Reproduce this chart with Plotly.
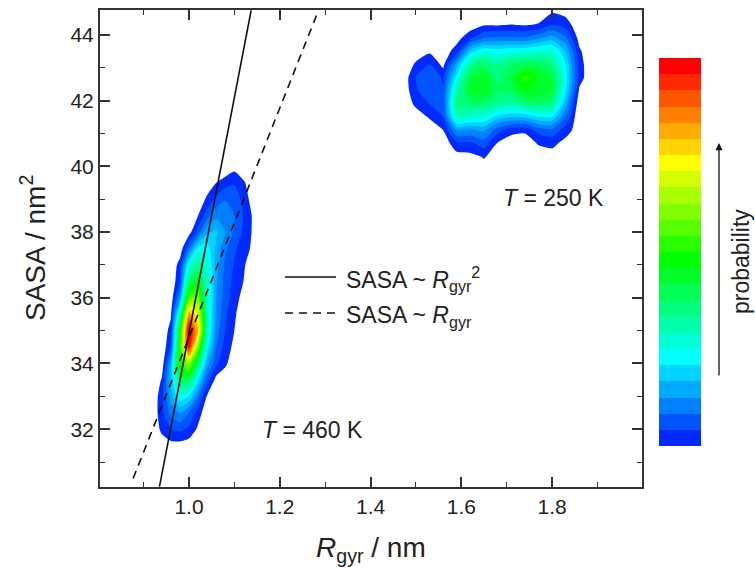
import plotly.graph_objects as go

# ---------------------------------------------------------------
# Probability surface, T = 460 K (compact state)
# rows: SASA / nm^2, columns: Rgyr / nm, values in contour-level units
# ---------------------------------------------------------------
rgyr_460 = [0.92, 0.94, 0.96, 0.98, 1.00, 1.02, 1.04, 1.06, 1.08, 1.10, 1.12, 1.14, 1.16]
sasa_460 = [31.0, 31.5, 32.0, 32.5, 33.0, 33.5, 34.0, 34.5, 35.0, 35.5,
            36.0, 36.5, 37.0, 37.5, 38.0, 38.5, 39.0, 39.5, 40.0, 40.5]
prob_460 = [
    [0,   0,   0,   0,   0,    0,   0,   0,   0,   0,   0,   0,   0],  # 31.0
    [0,   0.3, 0.6, 0.6, 0.4,  0,   0,   0,   0,   0,   0,   0,   0],  # 31.5
    [0,   1.3, 2.0, 2.2, 1.8,  0.8, 0,   0,   0,   0,   0,   0,   0],  # 32.0
    [0.3, 1.6, 3.3, 4.0, 3.0,  1.5, 0.3, 0,   0,   0,   0,   0,   0],  # 32.5
    [0.2, 1.6, 4.5, 6.8, 6.0,  3.2, 0.9, 0,   0,   0,   0,   0,   0],  # 33.0
    [0,   1.1, 5.0, 10,  10.5, 6.0, 2.5, 0.6, 0,   0,   0,   0,   0],  # 33.5
    [0,   0.2, 4.5, 13,  16,   10,  4.5, 2.2, 1.3, 0,   0,   0,   0],  # 34.0
    [0,   0,   2.2, 13,  24.5, 15,  6.5, 3.0, 1.6, 0.7, 0,   0,   0],  # 34.5
    [0,   0,   1.5, 12,  25.5, 20,  8.0, 3.5, 2.0, 1.0, 0,   0,   0],  # 35.0
    [0,   0,   0.8, 8.0, 21,   18,  8.0, 3.8, 2.2, 1.2, 0.2, 0,   0],  # 35.5
    [0,   0,   0.2, 4.0, 14,   15,  8.0, 4.0, 2.5, 1.5, 0.6, 0,   0],  # 36.0
    [0,   0,   0,   2.0, 10,   12,  8.0, 4.2, 2.6, 1.7, 1.0, 0.2, 0],  # 36.5
    [0,   0,   0,   1.5, 7.0,  9.0, 7.5, 4.5, 2.8, 1.9, 1.2, 0.2, 0],  # 37.0
    [0,   0,   0,   0.2, 3.0,  6.5, 6.5, 4.8, 3.2, 2.2, 1.5, 0.8, 0],  # 37.5
    [0,   0,   0,   0,   0.5,  2.5, 4.8, 5.2, 4.0, 2.8, 1.8, 0.9, 0],  # 38.0
    [0,   0,   0,   0,   0,    1.0, 2.6, 3.7, 3.9, 3.0, 2.0, 0.9, 0],  # 38.5
    [0,   0,   0,   0,   0,    0.3, 1.2, 2.3, 2.9, 2.6, 1.7, 0.5, 0],  # 39.0
    [0,   0,   0,   0,   0,    0,   0.4, 1.0, 1.6, 1.9, 1.2, 0.2, 0],  # 39.5
    [0,   0,   0,   0,   0,    0,   0,   0,   0,   0.6, 0,   0,   0],  # 40.0
    [0,   0,   0,   0,   0,    0,   0,   0,   0,   0,   0,   0,   0],  # 40.5
]

# ---------------------------------------------------------------
# Probability surface, T = 250 K (extended state)
# ---------------------------------------------------------------
rgyr_250 = [1.47, 1.50, 1.53, 1.56, 1.59, 1.62, 1.65, 1.68, 1.71, 1.74, 1.77, 1.80, 1.83, 1.86, 1.89]
sasa_250 = [39.9, 40.3, 40.7, 41.1, 41.5, 41.9, 42.3, 42.7, 43.1, 43.5, 43.9, 44.3, 44.7, 45.1]
prob_250 = [
    [0,   0,   0,   0,   0,   0.3, 0.5,  0,    0,    0,    0,    0,    0,   0,   0],  # 39.9
    [0,   0,   0,   0,   0.6, 0.7, 1.1,  0.5,  0.2,  0.1,  0.4,  0.5,  0.2, 0,   0],  # 40.3
    [0,   0,   0,   0.3, 1.7, 1.8, 2.5,  0.9,  0.5,  0.4,  1.1,  1.3,  0.6, 0,   0],  # 40.7
    [0,   0,   0.4, 1.0, 4.0, 3.8, 4.2,  2.4,  1.3,  1.2,  2.4,  2.7,  1.5, 0.4, 0],  # 41.1
    [0,   0.5, 1.1, 2.0, 8.0, 7.5, 7.0,  5.5,  5.0,  5.0,  6.0,  6.0,  3.0, 0,   0],  # 41.5
    [0.3, 1.2, 2.0, 2.2, 9.5, 10,  10,   9.0,  8.5,  9.5,  10,   9.5,  4.5, 0.2, 0],  # 41.9
    [0.2, 1.8, 3.0, 2.2, 8.5, 11.5, 12,  10,   10.5, 12,   12,   11,   6.0, 0.8, 0],  # 42.3
    [0.2, 2.0, 3.0, 1.8, 6.5, 11,  12,   9.5,  11,   13.5, 12,   11,   6.5, 1.5, 0],  # 42.7
    [0,   1.2, 2.0, 0.7, 4.5, 9.0, 10,   9.0,  10,   10.5, 10.5, 9.5,  6.0, 1.5, 0],  # 43.1
    [0,   0.3, 0.8, 0.4, 1.5, 5.5, 7.0,  6.5,  7.0,  7.0,  7.5,  7.5,  5.0, 1.2, 0],  # 43.5
    [0,   0,   0,   0,   0.6, 1.8, 3.0,  3.2,  3.2,  3.2,  3.8,  4.5,  3.2, 0.6, 0],  # 43.9
    [0,   0,   0,   0,   0,   0.4, 0.95, 0.95, 1.05, 0.95, 1.1,  2.0,  1.6, 0.2, 0],  # 44.3
    [0,   0,   0,   0,   0,   0,   0,    0,    0,    0,    0.4,  0.9,  0.6, 0,   0],  # 44.7
    [0,   0,   0,   0,   0,   0,   0,    0,    0,    0,    0,    0,    0,   0,   0],  # 45.1
]

# Scaling lines SASA ~ Rgyr^2 (solid) and SASA ~ Rgyr (dashed)
rgyr_sq_line = [0.935, 1.000, 1.137]
sasa_sq_line = [30.25, 34.95, 44.75]
rgyr_lin_line = [0.877, 1.281]
sasa_lin_line = [30.50, 44.60]

# 24-step rainbow palette (low -> high probability)
band_colors = [
    "#002AFF", "#0055FF", "#0080FF", "#00AAFF", "#00D4FF", "#00FFFF",
    "#00FFD4", "#00FFAA", "#00FF80", "#00FF55", "#00FF2A", "#00FF00",
    "#2AFF00", "#55FF00", "#80FF00", "#AAFF00", "#D4FF00", "#FFFF00",
    "#FFD400", "#FFAA00", "#FF8000", "#FF5500", "#FF2A00", "#FF0000",
]
n_bands = len(band_colors)

# contour fill colours: below the first level is left transparent
fill_scale = [[0.0, "rgba(255,255,255,0)"]] + [
    [(k + 1) / n_bands, c] for k, c in enumerate(band_colors)
]
bar_scale = [[k / (n_bands - 1), c] for k, c in enumerate(band_colors)]

W, H = 755, 579
X0, X1, Y0, Y1 = 100, 642, 10, 487   # plot frame in pixels


def px(x):
    return x / W


def py(y):
    return 1 - y / H


TXT = "#222222"
AX = "#333333"
FONT = "Liberation Sans, Arial, sans-serif"

contour_opts = dict(start=1, end=24, size=1, coloring="fill", showlines=False)

fig = go.Figure()
for rg, ss, zz in ((rgyr_460, sasa_460, prob_460), (rgyr_250, sasa_250, prob_250)):
    fig.add_trace(go.Contour(
        x=rg, y=ss, z=zz, contours=contour_opts, colorscale=fill_scale,
        showscale=False, line=dict(width=0, smoothing=0.6), hoverinfo="skip",
    ))

fig.add_trace(go.Scatter(
    x=rgyr_sq_line, y=sasa_sq_line, mode="lines",
    line=dict(color="#111111", width=1.6), showlegend=False, hoverinfo="skip",
))
fig.add_trace(go.Scatter(
    x=rgyr_lin_line, y=sasa_lin_line, mode="lines",
    line=dict(color="#111111", width=1.6, dash="8px,6px"), showlegend=False, hoverinfo="skip",
))

# colour key drawn as a one-column heatmap
fig.add_trace(go.Heatmap(
    x=[0], y=list(range(1, n_bands + 1)), z=[[k] for k in range(1, n_bands + 1)],
    zmin=1, zmax=n_bands, colorscale=bar_scale, showscale=False,
    xaxis="x2", yaxis="y2", hoverinfo="skip",
))

axis_common = dict(
    showline=True, linecolor=AX, linewidth=2, mirror="ticks",
    ticks="inside", ticklen=10, tickwidth=1.6, tickcolor=AX,
    showgrid=False, zeroline=False,
    tickfont=dict(family=FONT, size=21, color=TXT),
)

fig.update_layout(
    width=W, height=H, margin=dict(l=0, r=0, t=0, b=0),
    paper_bgcolor="white", plot_bgcolor="white", showlegend=False,
    xaxis=dict(
        domain=[px(X0), px(X1)], range=[0.804, 1.998],
        tick0=0, dtick=0.2, tickformat=".1f",
        minor=dict(dtick=0.1, ticklen=5, tickwidth=1.4, tickcolor=AX, ticks="inside"),
        **axis_common,
    ),
    yaxis=dict(
        domain=[py(Y1), py(Y0)], range=[30.24, 44.76],
        tick0=0, dtick=2,
        minor=dict(dtick=1, ticklen=5, tickwidth=1.4, tickcolor=AX, ticks="inside"),
        **axis_common,
    ),
    xaxis2=dict(domain=[px(659), px(701)], range=[-0.5, 0.5], anchor="y2", visible=False),
    yaxis2=dict(domain=[py(446), py(58)], range=[0.5, n_bands + 0.5], anchor="x2", visible=False),
)

annotations = [
    dict(text="<i>R</i><sub>gyr</sub> / nm", x=px(371), y=py(549), font=dict(size=28)),
    dict(text="SASA / nm<sup>2</sup>", x=px(33), y=py(248), textangle=-90, font=dict(size=28)),
    dict(text="<i>T</i> = 460 K", x=px(312), y=py(430), font=dict(size=23)),
    dict(text="<i>T</i> = 250 K", x=px(553), y=py(198), font=dict(size=23)),
    dict(text="SASA ~ <i>R</i><sub>gyr</sub><sup>2</sup>", x=px(345), y=py(279),
         xanchor="left", font=dict(size=23)),
    dict(text="SASA ~ <i>R</i><sub>gyr</sub>", x=px(345), y=py(316),
         xanchor="left", font=dict(size=23)),
    dict(text="probability", x=px(741), y=py(262), textangle=-90, font=dict(size=23)),
]
for a in annotations:
    a.setdefault("xanchor", "center")
    a.update(xref="paper", yref="paper", showarrow=False, yanchor="middle",
             borderpad=0)
    a["font"].update(family=FONT, color=TXT)
    fig.add_annotation(**a)

# arrow next to the colour key
fig.add_annotation(
    x=px(719), y=py(143), xref="paper", yref="paper", ax=0, ay=234,
    text="", showarrow=True, arrowhead=2, arrowsize=1.1, arrowwidth=1.3,
    arrowcolor="#111111", standoff=0,
)

# legend line samples
fig.add_shape(type="line", xref="paper", yref="paper", x0=px(285), x1=px(336),
              y0=py(277), y1=py(277), line=dict(color="#111111", width=1.6))
fig.add_shape(type="line", xref="paper", yref="paper", x0=px(285), x1=px(336),
              y0=py(313), y1=py(313), line=dict(color="#111111", width=1.6, dash="8px,6px"))

fig.write_html("out.html")
